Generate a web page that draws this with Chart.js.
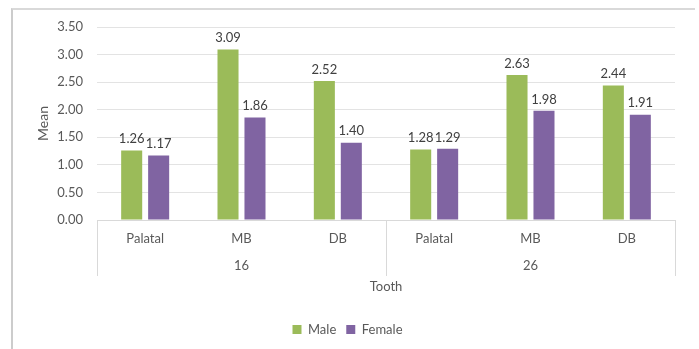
<!DOCTYPE html>
<html>
<head>
<meta charset="utf-8">
<script src="https://cdn.jsdelivr.net/npm/chart.js@4/dist/chart.umd.min.js"></script>
<style>
  html, body { margin: 0; padding: 0; background: #fff; }
  #wrap { position: relative; width: 699px; height: 349px; overflow: hidden; }
  #frame { position: absolute; left: 11px; top: 8px; width: 684px; height: 360px;
           border-left: 2px solid #cccccc; border-top: 2px solid #d9d9d9; box-sizing: border-box; }
  canvas { position: absolute; left: 0; top: 0; }
</style>
</head>
<body>
<div id="wrap">
  <div id="frame"></div>
  <canvas id="c" width="699" height="349"></canvas>
</div>
<script>
// Root positions measured per tooth
const roots = ['Palatal', 'MB', 'DB', 'Palatal', 'MB', 'DB'];
const teeth = ['16', '26'];
const rootsPerTooth = 3;
const maleMean = [1.26, 3.09, 2.52, 1.28, 2.63, 2.44];
const femaleMean = [1.17, 1.86, 1.40, 1.29, 1.98, 1.91];
const yTicks = [0, 0.5, 1, 1.5, 2, 2.5, 3, 3.5];

const textColor = '#595959';
const fontFamily = 'Lato, "Open Sans", sans-serif';

// Value labels above each bar
const valueLabels = {
  id: 'valueLabels',
  afterDatasetsDraw(chart) {
    const ctx = chart.ctx;
    ctx.save();
    ctx.font = '13px ' + fontFamily;
    ctx.fillStyle = '#404040';
    ctx.textAlign = 'center';
    ctx.textBaseline = 'bottom';
    chart.data.datasets.forEach((ds, i) => {
      chart.getDatasetMeta(i).data.forEach((bar, j) => {
        ctx.fillText(ds.data[j].toFixed(2), bar.x, bar.y - 5);
      });
    });
    ctx.restore();
  }
};

// Second level of the category axis: tooth numbers and group separators
const toothGroups = {
  id: 'toothGroups',
  afterDraw(chart) {
    const x = chart.scales.x;
    const ctx = chart.ctx;
    const top = chart.chartArea.bottom;
    const bottom = top + 56;
    ctx.save();
    ctx.strokeStyle = '#d9d9d9';
    ctx.lineWidth = 1;
    const bounds = [x.left];
    teeth.forEach((t, g) => {
      const last = (g + 1) * rootsPerTooth - 1;
      if (g < teeth.length - 1) {
        bounds.push((x.getPixelForValue(last) + x.getPixelForValue(last + 1)) / 2);
      }
    });
    bounds.push(x.right);
    bounds.forEach(px => {
      const p = Math.round(px) + 0.5;
      ctx.beginPath();
      ctx.moveTo(p, top);
      ctx.lineTo(p, bottom);
      ctx.stroke();
    });
    ctx.font = '13px ' + fontFamily;
    ctx.fillStyle = textColor;
    ctx.textAlign = 'center';
    ctx.textBaseline = 'middle';
    teeth.forEach((t, g) => {
      const a = x.getPixelForValue(g * rootsPerTooth);
      const b = x.getPixelForValue((g + 1) * rootsPerTooth - 1);
      ctx.fillText(t, (a + b) / 2, top + 46);
    });
    ctx.restore();
  }
};

new Chart(document.getElementById('c'), {
  type: 'bar',
  data: {
    labels: roots,
    datasets: [
      { label: 'Male', data: maleMean, backgroundColor: '#9bbb59' },
      { label: 'Female', data: femaleMean, backgroundColor: '#8064a2' }
    ]
  },
  options: {
    responsive: false,
    animation: false,
    devicePixelRatio: 1,
    categoryPercentage: 0.56,
    barPercentage: 0.78,
    layout: { padding: { left: 20, right: 24, top: 27, bottom: 3 } },
    plugins: {
      tooltip: { enabled: false },
      legend: {
        position: 'bottom',
        labels: {
          boxWidth: 9, boxHeight: 9,
          color: textColor,
          font: { family: fontFamily, size: 13 },
          padding: 10
        }
      }
    },
    scales: {
      x: {
        grid: { display: false, drawTicks: false },
        border: { display: true, color: '#d9d9d9' },
        ticks: { color: textColor, font: { family: fontFamily, size: 13 }, padding: 11 },
        title: {
          display: true, text: 'Tooth', color: textColor,
          font: { family: fontFamily, size: 13 },
          padding: { top: 4, bottom: 18 }
        },
        afterFit(scale) { scale.height = 93; }
      },
      y: {
        min: 0, max: 3.5,
        afterBuildTicks(scale) { scale.ticks = yTicks.map(v => ({ value: v })); },
        grid: { color: '#e3e3e3', drawTicks: false },
        border: { display: false },
        ticks: {
          color: textColor, font: { family: fontFamily, size: 13 }, padding: 14,
          callback: v => Number(v).toFixed(2)
        },
        title: {
          display: true, text: 'Mean', color: textColor,
          font: { family: fontFamily, size: 14 },
          padding: { top: 15, bottom: 0 }
        },
        afterFit(scale) { scale.width = 77; }
      }
    }
  },
  plugins: [valueLabels, toothGroups]
});
</script>
</body>
</html>
